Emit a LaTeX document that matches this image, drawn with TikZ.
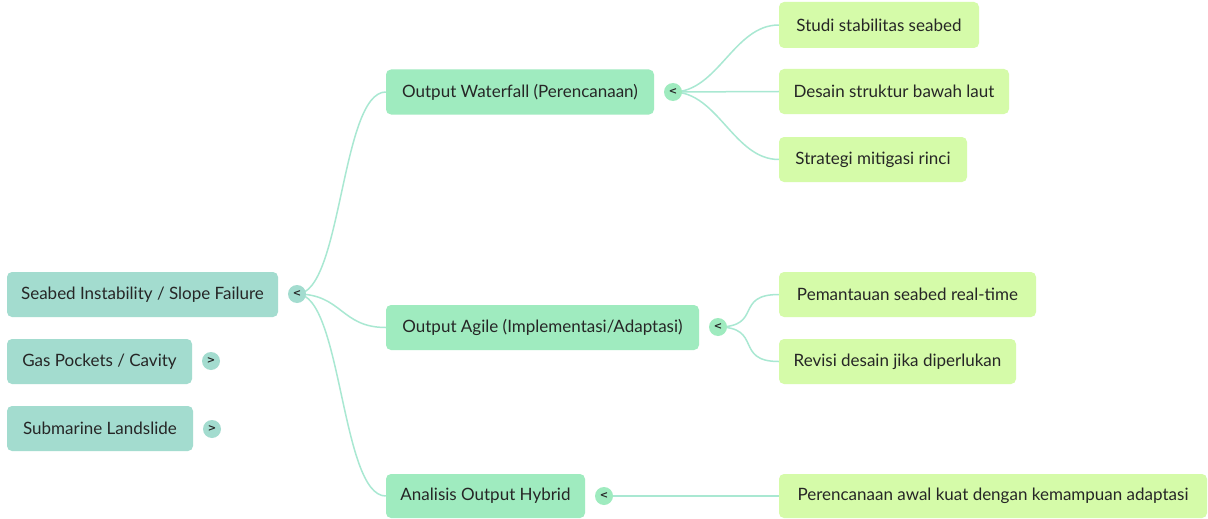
\documentclass[tikz,border=0pt]{standalone}
\usepackage{fontspec}
\setmainfont{Lato}
\newfontfamily\togglefont{DejaVu Sans}
\definecolor{rootfill}{HTML}{A3DCCF}
\definecolor{midfill}{HTML}{9FEBBF}
\definecolor{leaffill}{HTML}{D5FBA9}
\definecolor{linkcol}{HTML}{A9E8D2}
\definecolor{txt}{HTML}{262626}
\tikzset{
  box/.style={rounded corners=5pt, minimum height=45pt, inner sep=0pt, text=txt,
    font=\fontsize{17}{20}\selectfont},
  rootbox/.style={box, fill=rootfill},
  midbox/.style={box, fill=midfill},
  leafbox/.style={box, fill=leaffill},
  toggle/.style={circle, minimum size=18pt, inner sep=0pt, text=txt,
    font=\togglefont\fontsize{10}{10}\selectfont\bfseries},
  link/.style={draw=linkcol, line width=1.5pt},
}
\usetikzlibrary{calc}
\newcommand{\linkto}[2]{\draw[link] (#1.center) .. controls ($(#1.center)+(45,0)$) and ($(#2.west)-(45,0)$) .. (#2.west);}
\begin{document}
\begin{tikzpicture}[x=1pt,y=-1pt]
\path[use as bounding box, fill=white] (0,0) rectangle (1208,519);

% root topics
\node[rootbox, minimum width=271pt] (seabed) at (142.5,294.5) {Seabed Instability / Slope Failure};
\node[rootbox, minimum width=185pt] (gas) at (99.5,361.5) {Gas Pockets / Cavity};
\node[rootbox, minimum width=186pt] (landslide) at (100,428.5) {Submarine Landslide};

% second level
\node[midbox, minimum width=268pt] (waterfall) at (520,92) {Output Waterfall (Perencanaan)};
\node[midbox, minimum width=313pt] (agile) at (542.5,327.5) {Output Agile (Implementasi/Adaptasi)};
\node[midbox, minimum width=199pt, minimum height=44pt] (hybrid) at (485.5,496) {Analisis Output Hybrid};

% leaves
\node[leafbox, minimum width=200pt, minimum height=46pt] (studi) at (879,25) {Studi stabilitas seabed};
\node[leafbox, minimum width=230pt] (desain) at (894,91.5) {Desain struktur bawah laut};
\node[leafbox, minimum width=188pt] (strategi) at (873,159.5) {Strategi mitigasi rinci};
\node[leafbox, minimum width=257pt] (pemantauan) at (907.5,294.5) {Pemantauan seabed real-time};
\node[leafbox, minimum width=237pt] (revisi) at (897.5,361.5) {Revisi desain jika diperlukan};
\node[leafbox, minimum width=428pt, minimum height=44pt] (awal) at (993,496) {Perencanaan awal kuat dengan kemampuan adaptasi};

% connectors
\coordinate (tseabedc) at (297,294);
\coordinate (twaterc) at (673,92);
\coordinate (tagilec) at (718,327);
\coordinate (thybridc) at (604,496);
\linkto{tseabedc}{waterfall}
\linkto{tseabedc}{agile}
\linkto{tseabedc}{hybrid}
\linkto{twaterc}{studi}
\linkto{twaterc}{desain}
\linkto{twaterc}{strategi}
\linkto{tagilec}{pemantauan}
\linkto{tagilec}{revisi}
\linkto{thybridc}{awal}

% collapse / expand toggles
\node[toggle, fill=rootfill] (tseabed) at (tseabedc) {<};
\node[toggle, fill=rootfill] (tgas) at (211,361) {>};
\node[toggle, fill=rootfill] (tland) at (212,429) {>};
\node[toggle, fill=midfill] (twater) at (twaterc) {<};
\node[toggle, fill=midfill] (tagile) at (tagilec) {<};
\node[toggle, fill=midfill] (thybrid) at (thybridc) {<};
\end{tikzpicture}
\end{document}
